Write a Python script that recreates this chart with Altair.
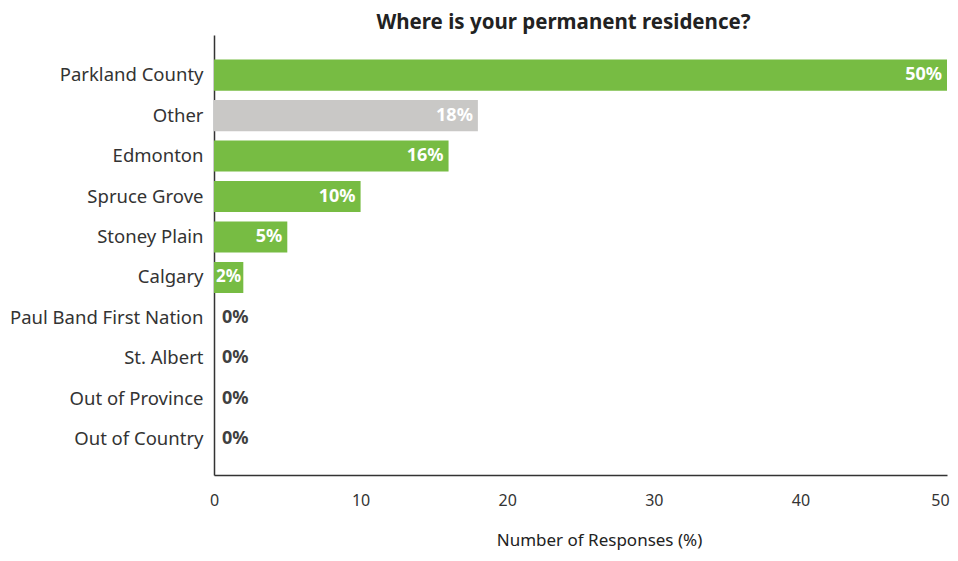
import altair as alt
import pandas as pd

categories = ["Parkland County", "Other", "Edmonton", "Spruce Grove", "Stoney Plain",
              "Calgary", "Paul Band First Nation", "St. Albert", "Out of Province", "Out of Country"]
values = [50, 18, 16, 10, 5, 2, 0, 0, 0, 0]
groups = ["main", "other", "main", "main", "main", "main", "main", "main", "main", "main"]
x_ticks = [0, 10, 20, 30, 40, 50]

df = pd.DataFrame({"cat": categories, "val": values, "grp": groups})
df["label"] = df["val"].astype(str) + "%"

FONT = "Noto Sans"

y_enc = alt.Y("cat:N", sort=categories, title=None,
              scale=alt.Scale(paddingInner=0.23, paddingOuter=0.55, align=0.55),
              axis=alt.Axis(ticks=False, labelPadding=11, labelFontSize=18.5, labelColor="#333333",
                            labelFont=FONT, domainColor="#333333", domainWidth=1.5, labelLimit=300))

x_enc = alt.X("val:Q", scale=alt.Scale(domain=[0, 50], nice=False),
              axis=alt.Axis(values=x_ticks, ticks=False, grid=False, labelPadding=17, labelFlush=False,
                            labelOffset={"expr": "datum.value == 50 ? -7 : 0"},
                            labelFontSize=16, labelColor="#333333", labelFont=FONT,
                            domainColor="#333333", domainWidth=1.5,
                            title="Number of Responses (%)", titleFont=FONT, titleFontSize=17,
                            titleFontWeight="normal", titleColor="#222222",
                            titleX=385, titleY=65, titleBaseline="middle"))

bars = alt.Chart(df).mark_bar().encode(
    x=x_enc, y=y_enc,
    color=alt.Color("grp:N", scale=alt.Scale(domain=["main", "other"], range=["#77BC43", "#C9C8C6"]), legend=None),
)

inside = alt.Chart(df).transform_filter("datum.val > 2").mark_text(
    align="right", baseline="middle", dx=-5, color="white", fontWeight="bold", fontSize=18, font=FONT
).encode(x="val:Q", y=alt.Y("cat:N", sort=categories), text="label:N")

small = alt.Chart(df).transform_filter("datum.val > 0 && datum.val <= 2").mark_text(
    align="left", baseline="middle", dx=2, color="white", fontWeight="bold", fontSize=17, font=FONT
).encode(x=alt.value(0), y=alt.Y("cat:N", sort=categories), text="label:N")

zero = alt.Chart(df).transform_filter("datum.val == 0").mark_text(
    align="left", baseline="middle", dx=8, color="#404040", fontWeight="bold", fontSize=18, font=FONT
).encode(x="val:Q", y=alt.Y("cat:N", sort=categories), text="label:N")

chart = alt.layer(bars, inside, small, zero).properties(
    width=733, height=440,
    autosize=alt.AutoSizeParams(type="none"),
    padding={"left": 206, "top": 27, "right": 3, "bottom": 78},
    title=alt.TitleParams("Where is your permanent residence?", fontSize=20.5, fontWeight="bold",
                          font=FONT, color="#222222", anchor="middle", dx=-17, offset=2),
).configure_view(stroke=None)

chart.save("out.html", embed_options={"renderer": "svg", "actions": False})
